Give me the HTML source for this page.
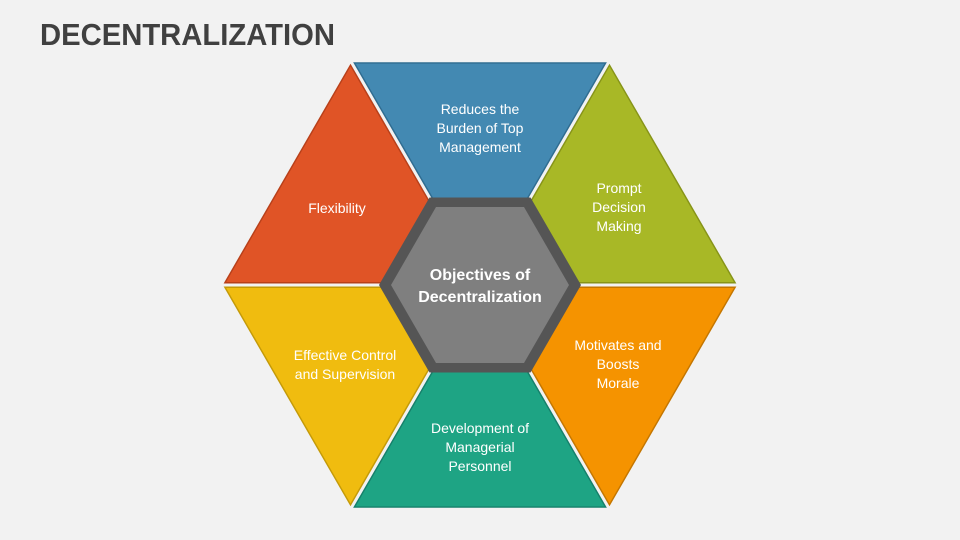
<!DOCTYPE html>
<html><head><meta charset="utf-8"><style>
html,body{margin:0;padding:0;background:#f2f2f2;}
svg{display:block}
text{font-family:"Liberation Sans",sans-serif;fill:#fff;text-anchor:middle;font-size:14px}
</style></head><body>
<svg width="960" height="540" viewBox="0 0 960 540" xmlns="http://www.w3.org/2000/svg">
<rect width="960" height="540" fill="#f2f2f2"/>
<text x="40" y="45" textLength="295" lengthAdjust="spacingAndGlyphs" style="text-anchor:start;font-size:31px;font-weight:bold;fill:#404040">DECENTRALIZATION</text>
<g stroke-width="1.5">
<polygon points="221,285 350.5,60.7 480,285" fill="#E05426" stroke="#B8401A" transform="translate(350.5,210.2) scale(.97) translate(-350.5,-210.2)"/>
<polygon points="350.5,60.7 609.5,60.7 480,285" fill="#4389B2" stroke="#2F6C90" transform="translate(480,135.5) scale(.97) translate(-480,-135.5)"/>
<polygon points="609.5,60.7 739,285 480,285" fill="#A8B826" stroke="#879418" transform="translate(609.5,210.2) scale(.97) translate(-609.5,-210.2)"/>
<polygon points="221,285 480,285 350.5,509.3" fill="#F0BC0F" stroke="#C49A08" transform="translate(350.5,359.8) scale(.97) translate(-350.5,-359.8)"/>
<polygon points="480,285 609.5,509.3 350.5,509.3" fill="#1EA484" stroke="#15806A" transform="translate(480,434.5) scale(.97) translate(-480,-434.5)"/>
<polygon points="480,285 739,285 609.5,509.3" fill="#F59300" stroke="#C47600" transform="translate(609.5,359.8) scale(.97) translate(-609.5,-359.8)"/>
</g>
<polygon points="379,285 429.5,197.5 530.5,197.5 581,285 530.5,372.5 429.5,372.5" fill="#555"/>
<polygon points="391,285 436,207 524,207 569,285 524,363 436,363" fill="#7f7f7f"/>
<text x="480" y="280" style="font-size:16px;font-weight:bold">Objectives of</text>
<text x="480" y="302" style="font-size:16px;font-weight:bold">Decentralization</text>
<text x="337" y="213">Flexibility</text>
<text x="480" y="114">Reduces the</text>
<text x="480" y="133">Burden of Top</text>
<text x="480" y="152">Management</text>
<text x="619" y="193">Prompt</text>
<text x="619" y="212">Decision</text>
<text x="619" y="231">Making</text>
<text x="345" y="360">Effective Control</text>
<text x="345" y="379">and Supervision</text>
<text x="618" y="350">Motivates and</text>
<text x="618" y="369">Boosts</text>
<text x="618" y="388">Morale</text>
<text x="480" y="433">Development of</text>
<text x="480" y="452">Managerial</text>
<text x="480" y="471">Personnel</text>
</svg>
</body></html>
